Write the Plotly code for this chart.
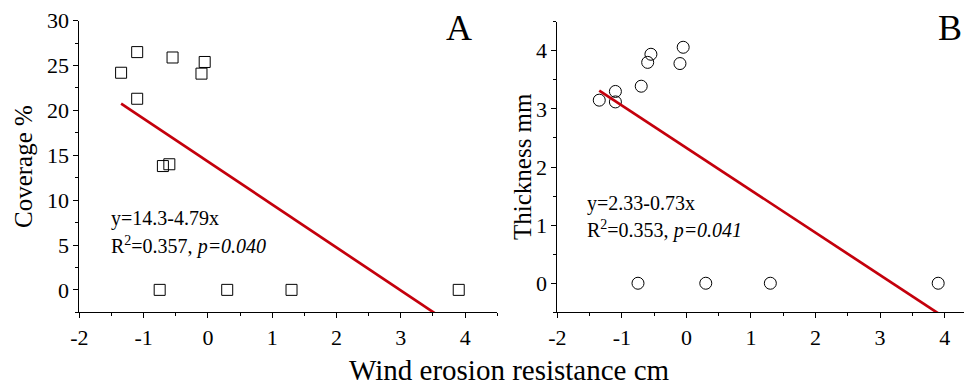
import plotly.graph_objects as go

# Panel A: coverage (%)
xa = [-1.35, -1.10, -1.10, -0.55, -0.10, -0.05, -0.70, -0.60, -0.75, 0.30, 1.30, 3.90]
ya = [24.2, 26.5, 21.3, 25.9, 24.1, 25.4, 13.8, 14.0, 0.0, 0.0, 0.0, 0.0]
# Panel B: thickness (mm)
xb = [-1.35, -1.10, -1.10, -0.70, -0.60, -0.55, -0.10, -0.05, -0.75, 0.30, 1.30, 3.90]
yb = [3.15, 3.30, 3.12, 3.39, 3.80, 3.94, 3.78, 4.06, 0.0, 0.0, 0.0, 0.0]

fit_a = (14.3, -4.79)
fit_b = (2.33, -0.73)
fit_x = [-1.35, 4.5]

x_ticks = [-2, -1, 0, 1, 2, 3, 4]
x_ticktext = ["-2", "-1", "0", "1", "2", "3", "4"]
ya_ticks = [0, 5, 10, 15, 20, 25, 30]
yb_ticks = [0, 1, 2, 3, 4]

FONT = "Liberation Serif, Times New Roman, serif"
W, H = 965, 386

def px(x):
    return x / W

def py(y):
    return 1 - y / H

fig = go.Figure()
fig.add_trace(go.Scatter(x=xa, y=ya, mode="markers", xaxis="x", yaxis="y",
                         marker=dict(symbol="square-open", size=11, color="black",
                                     line=dict(width=1, color="black")),
                         showlegend=False))
fig.add_trace(go.Scatter(x=fit_x, y=[fit_a[0] + fit_a[1] * v for v in fit_x], mode="lines",
                         xaxis="x", yaxis="y", line=dict(color="#c4000c", width=2.7),
                         showlegend=False))
fig.add_trace(go.Scatter(x=xb, y=yb, mode="markers", xaxis="x2", yaxis="y2",
                         marker=dict(symbol="circle-open", size=12, color="black",
                                     line=dict(width=1, color="black")),
                         showlegend=False))
fig.add_trace(go.Scatter(x=fit_x, y=[fit_b[0] + fit_b[1] * v for v in fit_x], mode="lines",
                         xaxis="x2", yaxis="y2", line=dict(color="#c4000c", width=2.7),
                         showlegend=False))

axcommon = dict(showline=True, linecolor="black", linewidth=1, ticks="outside",
                ticklen=5, tickwidth=1, tickcolor="black", showgrid=False, zeroline=False,
                automargin=False,
                tickfont=dict(family=FONT, size=22, color="black"))

def minor(d):
    return dict(ticks="outside", ticklen=3, dtick=d, tickcolor="black", showgrid=False)

fig.update_layout(
    width=W, height=H, margin=dict(l=0, r=0, t=0, b=0, pad=0),
    paper_bgcolor="white", plot_bgcolor="white",
    xaxis=dict(domain=[px(79.3), px(497.3)], range=[-2, 4.5], anchor="y",
               tickmode="array", tickvals=x_ticks, ticktext=x_ticktext,
               minor=minor(0.5), **axcommon),
    yaxis=dict(domain=[py(312.3), py(20.7)], range=[-2.5, 30], anchor="x",
               tickmode="array", tickvals=ya_ticks,
               minor=minor(2.5), **axcommon),
    xaxis2=dict(domain=[px(557.3), px(964)], range=[-2, 4.3], anchor="y2",
                tickmode="array", tickvals=x_ticks, ticktext=x_ticktext,
                minor=minor(0.5), **axcommon),
    yaxis2=dict(domain=[py(312.3), py(21.7)], range=[-0.5, 4.5], anchor="x2",
                tickmode="array", tickvals=yb_ticks,
                minor=minor(0.5), **axcommon),
)

tf = dict(family=FONT, size=20, color="black")
ann = [
    dict(x=-1.54, y=7.9, xref="x", yref="y", text="y=14.3-4.79x"),
    dict(x=-1.54, y=4.9, xref="x", yref="y", text="R<sup>2</sup>=0.357, <i>p=0.040</i>"),
    dict(x=-1.57, y=1.37, xref="x2", yref="y2", text="y=2.33-0.73x"),
    dict(x=-1.57, y=0.92, xref="x2", yref="y2", text="R<sup>2</sup>=0.353, <i>p=0.041</i>"),
]
for a in ann:
    fig.add_annotation(**a, xanchor="left", yanchor="middle", showarrow=False, font=tf)

fig.add_annotation(x=px(459), y=py(28), xref="paper", yref="paper", text="A",
                   showarrow=False, xanchor="center", yanchor="middle",
                   font=dict(family=FONT, size=36, color="black"))
fig.add_annotation(x=px(950), y=py(28), xref="paper", yref="paper", text="B",
                   showarrow=False, xanchor="center", yanchor="middle",
                   font=dict(family=FONT, size=36, color="black"))
fig.add_annotation(x=px(23), y=py(167), xref="paper", yref="paper", text="Coverage %",
                   showarrow=False, textangle=-90, xanchor="center", yanchor="middle",
                   font=dict(family=FONT, size=25, color="black"))
fig.add_annotation(x=px(522), y=py(167), xref="paper", yref="paper", text="Thickness mm",
                   showarrow=False, textangle=-90, xanchor="center", yanchor="middle",
                   font=dict(family=FONT, size=25, color="black"))
fig.add_annotation(x=px(509), y=py(370), xref="paper", yref="paper",
                   text="Wind erosion resistance cm",
                   showarrow=False, xanchor="center", yanchor="middle",
                   font=dict(family=FONT, size=29, color="black"))

fig.write_html("out.html", config={"displayModeBar": False},
               post_script="document.body.style.margin='0';")
